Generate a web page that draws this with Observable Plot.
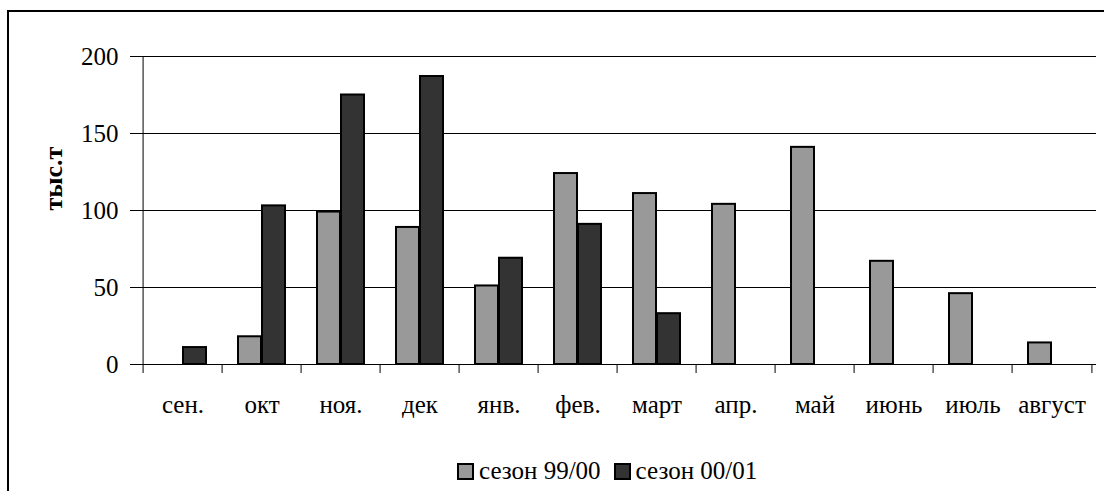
<!DOCTYPE html>
<html>
<head>
<meta charset="utf-8">
<script src="https://cdn.jsdelivr.net/npm/d3@7"></script>
<script src="https://cdn.jsdelivr.net/npm/@observablehq/plot@0.6"></script>
<style>
  html, body { margin: 0; padding: 0; background: #fff; font-family: 'Liberation Serif', serif !important; }
  html body #wrap, html body #wrap *, html body #wrap svg text, html body #wrap svg g { font-family: 'Liberation Serif', serif !important; }
  #wrap { position: relative; width: 1104px; height: 491px; overflow: hidden; }
  #frame { position: absolute; left: 7px; top: 10px; width: 1110px; height: 500px; border-left: 2px solid #000; border-top: 2px solid #000; box-sizing: border-box; }
  #chart { position: absolute; left: 0; top: 0; }
  #legend { position: absolute; left: 457px; top: 457px; display: flex; align-items: center; color: #000; font-size: 25px; }
  .item { display: flex; align-items: center; margin-right: 13px; }
  .sw { width: 17px; height: 17px; border: 2px solid #000; box-sizing: border-box; margin-right: 5px; }
</style>
</head>
<body>
<div id="wrap">
  <div id="frame"></div>
  <div id="chart"></div>
  <div id="legend"></div>
</div>
<script>
const months = ["сен.", "окт", "ноя.", "дек", "янв.", "фев.", "март", "апр.", "май", "июнь", "июль", "август"];
const season9900 = [null, 18, 99, 89, 51, 124, 111, 104, 141, 67, 46, 14];
const season0001 = [11, 103, 175, 187, 69, 91, 33, null, null, null, null, null];
const seriesNames = ["сезон 99/00", "сезон 00/01"];
const seriesColors = ["#999999", "#333333"];
const yTicks = [0, 50, 100, 150, 200];
const yLabel = "тыс.т";

const rows99 = months.map((m, i) => ({month: m, value: season9900[i]})).filter(d => d.value != null);
const rows01 = months.map((m, i) => ({month: m, value: season0001[i]})).filter(d => d.value != null);

const W = 1104, H = 450, ML = 138, MR = 8, MT = 56, MB = 86;
const half = (W - ML - MR) / months.length / 2;
const FONT = "'Liberation Serif', serif";

const chart = Plot.plot({
  width: W,
  height: H,
  marginLeft: ML,
  marginRight: MR,
  marginTop: MT,
  marginBottom: MB,
  style: {fontFamily: FONT, fontSize: "25px", color: "#000", background: "transparent"},
  x: {type: "band", domain: months, padding: 0},
  y: {domain: [0, 200]},
  marks: [
    Plot.gridY(yTicks.slice(1), {stroke: "#000", strokeOpacity: 1, strokeWidth: 1}),
    Plot.ruleY([0], {stroke: "#000", strokeWidth: 1}),
    Plot.ruleX([months[0]], {dx: -half, y1: 0, y2: 200, stroke: "#000", strokeWidth: 1}),
    Plot.barY(rows99, {x: "month", y: "value", fill: seriesColors[0], stroke: "#000", strokeWidth: 2, insetLeft: 16, insetRight: 40}),
    Plot.barY(rows01, {x: "month", y: "value", fill: seriesColors[1], stroke: "#000", strokeWidth: 2, insetLeft: 40, insetRight: 16}),
    Plot.axisY({ticks: yTicks, tickSize: 8, tickPadding: 12, fontSize: 25, label: null, stroke: "#000"}),
    Plot.axisX({tickSize: 0, tickPadding: 31, fontSize: 25, label: null}),
    Plot.axisX({ticks: months, tickSize: 9, tickFormat: () => "", dx: -half, label: null, stroke: "#000"}),
    Plot.axisX({ticks: months.slice(-1), tickSize: 9, tickFormat: () => "", dx: half, label: null, stroke: "#000"}),
    Plot.text([yLabel], {frameAnchor: "left", rotate: -90, dx: -85, fontSize: 26, fontWeight: "bold", fill: "#000"})
  ]
});
chart.querySelectorAll("text, g").forEach(el => { el.setAttribute("font-family", "Liberation Serif"); el.style.setProperty("font-family", FONT, "important"); });
document.getElementById("chart").appendChild(chart);

const legend = document.getElementById("legend");
seriesNames.forEach((name, i) => {
  const item = document.createElement("div");
  item.className = "item";
  const sw = document.createElement("div");
  sw.className = "sw";
  sw.style.background = seriesColors[i];
  const t = document.createElement("span");
  t.textContent = name;
  t.style.setProperty("font-family", FONT, "important");
  item.appendChild(sw);
  item.appendChild(t);
  legend.appendChild(item);
});
</script>
</body>
</html>
